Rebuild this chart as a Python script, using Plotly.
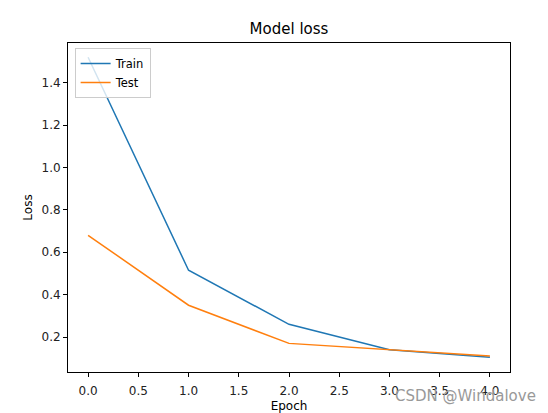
import plotly.graph_objects as go

epochs = [0, 1, 2, 3, 4]
train_loss = [1.52, 0.515, 0.26, 0.14, 0.105]
test_loss = [0.68, 0.35, 0.17, 0.14, 0.11]
x_ticks = [0.0, 0.5, 1.0, 1.5, 2.0, 2.5, 3.0, 3.5, 4.0]
y_ticks = [0.2, 0.4, 0.6, 0.8, 1.0, 1.2, 1.4]

fig = go.Figure()
fig.add_trace(go.Scatter(x=epochs, y=train_loss, mode="lines", name="Train",
                         line=dict(color="#1f77b4", width=1.5)))
fig.add_trace(go.Scatter(x=epochs, y=test_loss, mode="lines", name="Test",
                         line=dict(color="#ff7f0e", width=1.5)))

font = "DejaVu Sans"
axis_common = dict(showgrid=False, zeroline=False, showline=True, mirror=True,
                   linecolor="black", linewidth=1, ticks="outside", ticklen=4,
                   tickcolor="black", automargin=False,
                   tickfont=dict(family=font, size=12, color="#222"))

L, R, T, B = 68, 38, 43, 41
W, H = 548, 413
pw, ph = W - L - R, H - T - B

fig.update_layout(
    width=W, height=H,
    margin=dict(l=L, r=R, t=T, b=B, autoexpand=False),
    paper_bgcolor="white", plot_bgcolor="white",
    title=dict(text="Model loss", x=(L + W - R) / 2 / W, xanchor="center",
               y=1 - 29 / H, yanchor="middle",
               font=dict(family=font, size=15, color="black")),
    xaxis=dict(range=[-0.2, 4.2], tickvals=x_ticks,
               ticktext=[f"{v:.1f}" for v in x_ticks], ticklabelstandoff=4,
               title=dict(text="Epoch", standoff=4, font=dict(family=font, size=12, color="black")),
               **axis_common),
    yaxis=dict(range=[0.035, 1.587], tickvals=y_ticks,
               ticktext=[f"{v:.1f}" for v in y_ticks],
               title=dict(text="Loss", standoff=6, font=dict(family=font, size=12, color="black")),
               **axis_common),
    legend=dict(x=0.015, y=0.985, xanchor="left", yanchor="top",
                bgcolor="rgba(255,255,255,0.8)", bordercolor="#cccccc", borderwidth=1,
                font=dict(family=font, size=11.5, color="black"), tracegroupgap=0,
                itemwidth=30),
    showlegend=True,
)

fig.add_annotation(text="CSDN @Windalove", xref="paper", yref="paper",
                   x=(393 - L) / pw, y=(H - B - 396) / ph, xanchor="left", yanchor="middle",
                   showarrow=False, font=dict(family=font, size=15, color="#999999"))

fig.write_html("out.html")
